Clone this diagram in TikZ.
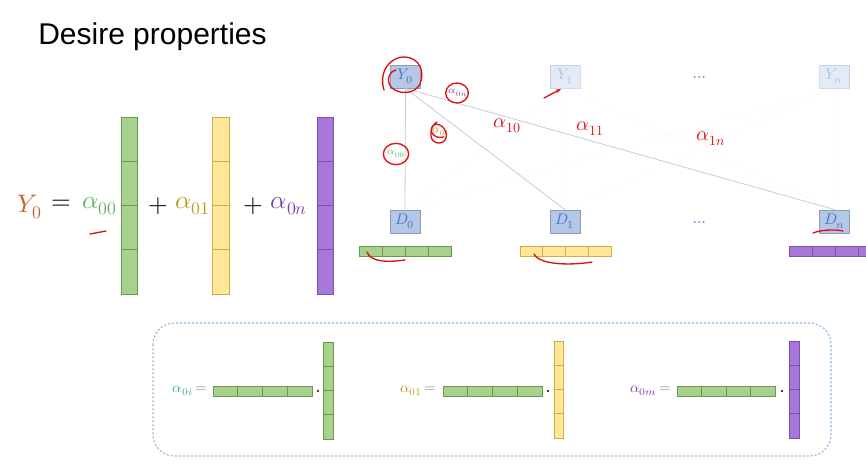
\documentclass[tikz,border=0pt]{standalone}
\usepackage{fontspec}
\usepackage{unicode-math}
\setmainfont{Liberation Sans}
\setmathfont{Latin Modern Math}
\usetikzlibrary{arrows.meta}
\definecolor{boxfill}{HTML}{B4C7E7}
\definecolor{boxdraw}{HTML}{8C9DB8}
\definecolor{boxtext}{HTML}{4472C4}
\definecolor{gfill}{HTML}{A9D18E}
\definecolor{gdraw}{HTML}{6B9650}
\definecolor{yfill}{HTML}{FFE699}
\definecolor{ydraw}{HTML}{CFAE45}
\definecolor{pfill}{HTML}{A878D8}
\definecolor{pdraw}{HTML}{7D4DB8}
\definecolor{linkc}{HTML}{C6CDD8}
\definecolor{orangeY}{HTML}{C5622A}
\definecolor{greenA}{HTML}{5DB85C}
\definecolor{goldA}{HTML}{BF9A1E}
\definecolor{purpA}{HTML}{7B3FB0}
\definecolor{tealA}{HTML}{2FB37A}
\definecolor{dashc}{HTML}{8DB8DC}
\definecolor{annred}{HTML}{E01010}
\newcommand\cellsH[5]{%
  \draw[#5] (#1,#2) rectangle (#3,#4);
  \foreach \k in {1,2,3} \draw[#5,fill=none] ({#1+\k*(#3-#1)/4},#2) -- ({#1+\k*(#3-#1)/4},#4);}
\newcommand\cellsV[5]{%
  \draw[#5] (#1,#2) rectangle (#3,#4);
  \foreach \k in {1,2,3} \draw[#5,fill=none] (#1,{#2+\k*(#4-#2)/4}) -- (#3,{#2+\k*(#4-#2)/4});}
\tikzset{
  vbox/.style={draw=boxdraw, fill=boxfill, line width=0.6pt, minimum width=22.5pt, minimum height=17.25pt, inner sep=0pt, text=boxtext, font=\fontsize{11.5}{13}\selectfont},
  faded/.style={opacity=0.35},
  link/.style={draw=linkc, line width=0.6pt},
  faint/.style={draw=linkc, line width=0.6pt, opacity=0.08},
  gcell/.style={fill=gfill, draw=gdraw, line width=0.6pt},
  ycell/.style={fill=yfill, draw=ydraw, line width=0.6pt},
  pcell/.style={fill=pfill, draw=pdraw, line width=0.6pt},
  eq/.style={font=\fontsize{19}{22}\selectfont, inner sep=0pt},
  small/.style={font=\fontsize{7.5}{8}\selectfont, inner sep=0pt},
  lab/.style={font=\fontsize{11}{12}\selectfont, inner sep=0pt, anchor=east},
  dotsn/.style={text=boxtext, font=\fontsize{12}{13}\selectfont, inner sep=0pt},
  ann/.style={draw=annred, line width=1pt, line cap=round},
  annt/.style={text=annred, font=\fontsize{15}{16}\selectfont, inner sep=0pt}
}
\begin{document}
\begin{tikzpicture}[x=0.75pt, y=-0.75pt]
\clip (0,0) rectangle (866,467);
\useasboundingbox (0,0) rectangle (866,467);
\fill[white] (0,0) rectangle (866,467);
% title
\node[anchor=base west, inner sep=0pt, font=\fontsize{22.5}{26}\selectfont] (title) at (38,45) {Desire properties};
% top row
\node[vbox] (Y0) at (405.5,76.5) {$Y_0$};
\node[vbox, faded] (Y1) at (565,76.5) {$Y_1$};
\node[vbox, faded] (Yn) at (834.5,76.5) {$Y_n$};
\node[dotsn] (dt) at (700,79) {$\cdots$};
% D row
\node[vbox] (D0) at (405,221.5) {$D_0$};
\node[vbox] (D1) at (565,221.5) {$D_1$};
\node[vbox] (Dn) at (834.5,221.5) {$D_n$};
\node[dotsn] (db) at (700,224) {$\cdots$};
% faint links
\foreach \y in {Y1,Yn} \foreach \d in {D0,D1,Dn} \draw[faint] (\d.north) -- (\y.south);
% links
\draw[link] (D1.north) -- (Y0.south);
\draw[link] (Dn.north) -- (Y0.south);
\draw[link, -{Latex[length=3pt,width=3pt]}] (D0.north) -- (Y0.south);
% small labels
\node[small, text=purpA] (l0n) at (458,93) {$\alpha_{0n}$};
\node[small, text=goldA] (l01) at (441,132) {$\alpha_{01}$};
\node[small, text=greenA] (l00) at (396,154) {$\alpha_{00}$};
% horizontal bars under D's
\cellsH{359}{246}{451}{256}{gcell}
\cellsH{520}{246}{611}{256}{ycell}
\cellsH{789}{246}{881}{256}{pcell}
% left equation
\node[eq, text=orangeY] (eqY) at (30,207) {$Y_0$};
\node[eq] (eqE) at (61,205) {$=$};
\node[eq, text=greenA] (eqa0) at (100,206) {$\alpha_{00}$};
\cellsV{121}{117}{137}{294}{gcell}
\node[eq] (eqp1) at (158,206) {$+$};
\node[eq, text=goldA] (eqa1) at (193,206) {$\alpha_{01}$};
\cellsV{212}{117}{229}{294}{ycell}
\node[eq] (eqp2) at (253,206) {$+$};
\node[eq, text=purpA] (eqa2) at (289,206) {$\alpha_{0n}$};
\cellsV{317}{117}{333}{294}{pcell}
% bottom dashed box
\draw[draw=dashc, line width=0.8pt, dash pattern=on 1.6pt off 1.4pt, rounded corners=16pt] (153,323) rectangle (831,456);
\node[lab] (b1) at (207,391) {\textcolor{tealA}{$\alpha_{0i}$}\,\textcolor{gray}{$=$}};
\cellsH{213}{386}{312}{396}{gcell}
\fill (318,391) circle (0.9pt);
\cellsV{323}{342}{333}{439}{gcell}
\node[lab] (b2) at (436,391) {\textcolor{goldA}{$\alpha_{01}$}\,\textcolor{gray}{$=$}};
\cellsH{443}{386}{542}{396}{gcell}
\fill (548,391) circle (0.9pt);
\cellsV{554}{341}{563}{438}{ycell}
\node[lab] (b3) at (671,391) {\textcolor{purpA}{$\alpha_{0m}$}\,\textcolor{gray}{$=$}};
\cellsH{677}{386}{775}{396}{gcell}
\fill (782,391) circle (0.9pt);
\cellsV{789}{341}{799}{438}{pcell}
% red annotations
\draw[ann] (384,90) .. controls (378,70) and (392,56) .. (405,57) .. controls (420,58) and (425,72) .. (420,84) .. controls (415,94) and (400,95) .. (392,88) .. controls (386,82) and (388,72) .. (396,70);
\draw[ann] (457,93) ellipse [x radius=8.5pt, y radius=7.5pt];
\draw[ann] (444,137) .. controls (432,140) and (428,128) .. (434,125) .. controls (440,122) and (448,130) .. (446,138) .. controls (444,145) and (432,145) .. (431,136) .. controls (430,130) and (433,124) .. (437,122);
\draw[ann] (396,154) ellipse [x radius=9.5pt, y radius=8pt];
\node[annt] (h10) at (507,126) {$\alpha_{10}$};
\node[annt] (h11) at (590,129) {$\alpha_{11}$};
\node[annt] (h1n) at (711,139) {$\alpha_{1n}$};
\draw[ann, -{Stealth[length=4pt]}] (544,98) -- (561,89);
\draw[ann] (367,252) .. controls (371,263) and (390,262) .. (405,260);
\draw[ann] (534,254) .. controls (540,266) and (575,265) .. (592,262);
\draw[ann] (813,233) .. controls (820,230) and (835,229) .. (843,231);
\draw[ann] (90,234) -- (106,231);
\end{tikzpicture}
\end{document}
